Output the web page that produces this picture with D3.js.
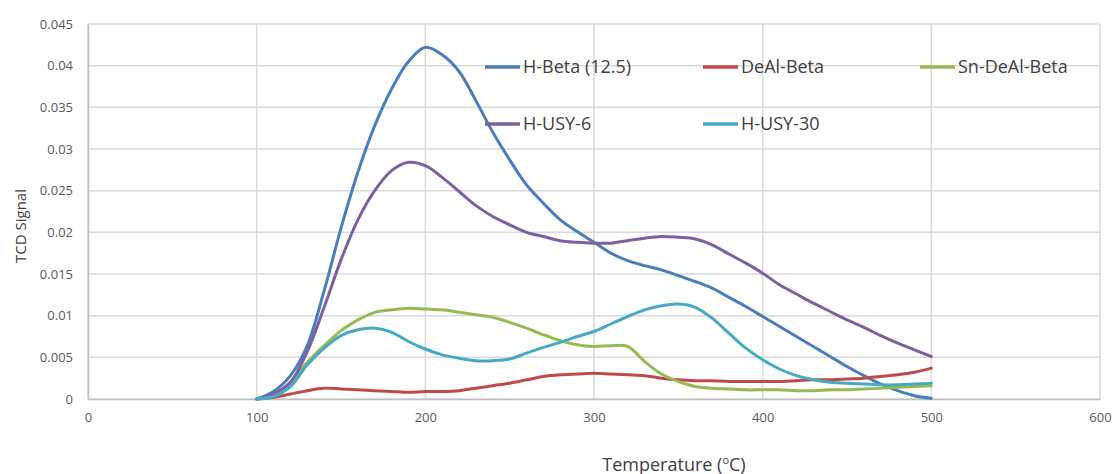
<!DOCTYPE html>
<html>
<head>
<meta charset="utf-8">
<script src="https://cdn.jsdelivr.net/npm/d3@7"></script>
<style>
  body { margin: 0; background: #fff; }
  text { font-family: "Open Sans", "Noto Sans", sans-serif; }
</style>
</head>
<body>
<div id="chart-container"></div>
<script>
var temperatures = [100, 110, 120, 130, 140, 150, 160, 170, 180, 190, 200,
  210, 220, 230, 240, 250, 260, 270, 280, 290, 300,
  310, 320, 330, 340, 350, 360, 370, 380, 390, 400,
  410, 420, 430, 440, 450, 460, 470, 480, 490, 500];

var hBeta = [0, 0.0009, 0.0028, 0.0064, 0.0130, 0.0205, 0.0272, 0.0328, 0.0372, 0.0405, 0.0422,
  0.0413, 0.0393, 0.0358, 0.0320, 0.0287, 0.0257, 0.0235, 0.0215, 0.0201, 0.0188,
  0.0175, 0.0166, 0.0160, 0.0155, 0.0148, 0.0141, 0.0133, 0.0122, 0.0111, 0.0099,
  0.0087, 0.0075, 0.0063, 0.0051, 0.0039, 0.0028, 0.0018, 0.0010, 0.0004, 0.0001];

var deAlBeta = [0, 0.0002, 0.0006, 0.0010, 0.0013, 0.0012, 0.0011, 0.0010, 0.0009, 0.0008, 0.0009,
  0.0009, 0.0010, 0.0013, 0.0016, 0.0019, 0.0023, 0.0027, 0.0029, 0.0030, 0.0031,
  0.0030, 0.0029, 0.0028, 0.0025, 0.0023, 0.0022, 0.0022, 0.0021, 0.0021, 0.0021,
  0.0021, 0.0022, 0.0023, 0.0023, 0.0024, 0.0025, 0.0027, 0.0029, 0.0032, 0.0037];

var snDeAlBeta = [0, 0.0005, 0.0020, 0.0044, 0.0064, 0.0082, 0.0095, 0.0104, 0.0107, 0.0109, 0.0108,
  0.0107, 0.0104, 0.0101, 0.0098, 0.0092, 0.0085, 0.0077, 0.0070, 0.0065, 0.0063,
  0.0064, 0.0063, 0.0045, 0.0030, 0.0021, 0.0015, 0.0013, 0.0012, 0.0011, 0.0011,
  0.0011, 0.0010, 0.0010, 0.0011, 0.0011, 0.0012, 0.0013, 0.0014, 0.0015, 0.0016];

var hUsy6 = [0, 0.0006, 0.0020, 0.0057, 0.0110, 0.0167, 0.0215, 0.0250, 0.0274, 0.0284, 0.0280,
  0.0266, 0.0249, 0.0232, 0.0219, 0.0209, 0.0200, 0.0195, 0.0190, 0.0188, 0.0187,
  0.0187, 0.0190, 0.0193, 0.0195, 0.0194, 0.0192, 0.0185, 0.0174, 0.0163, 0.0151,
  0.0137, 0.0126, 0.0115, 0.0105, 0.0095, 0.0086, 0.0076, 0.0067, 0.0059, 0.0051];

var hUsy30 = [0, 0.0003, 0.0015, 0.0041, 0.0061, 0.0076, 0.0083, 0.0085, 0.0080, 0.0069, 0.0060,
  0.0053, 0.0049, 0.0046, 0.0046, 0.0048, 0.0055, 0.0062, 0.0068, 0.0075, 0.0081,
  0.0090, 0.0099, 0.0107, 0.0112, 0.0114, 0.0110, 0.0097, 0.0079, 0.0061, 0.0047,
  0.0036, 0.0028, 0.0023, 0.0020, 0.0019, 0.0018, 0.0017, 0.0017, 0.0018, 0.0019];

var seriesNames = ["H-Beta (12.5)", "DeAl-Beta", "Sn-DeAl-Beta", "H-USY-6", "H-USY-30"];
var seriesValues = [hBeta, deAlBeta, snDeAlBeta, hUsy6, hUsy30];
var seriesColors = ["#4a7ebb", "#be4b48", "#98b954", "#7d60a0", "#46aac5"];

var xTicks = [0, 100, 200, 300, 400, 500, 600];
var yTicks = [0, 0.005, 0.01, 0.015, 0.02, 0.025, 0.03, 0.035, 0.04, 0.045];

// set the dimensions and margins of the graph
var width = 1119, height = 474;
var margin = { top: 24, right: 19, bottom: 75, left: 88 };
var innerWidth = width - margin.left - margin.right;
var innerHeight = height - margin.top - margin.bottom;

var svg = d3.select("#chart-container")
  .append("svg")
  .attr("width", width)
  .attr("height", height);

var g = svg.append("g")
  .attr("transform", "translate(" + margin.left + "," + margin.top + ")");

var xScale = d3.scaleLinear().domain([0, 600]).range([0, innerWidth]);
var yScale = d3.scaleLinear().domain([0, 0.045]).range([innerHeight, 0]);

// gridlines
g.append("g")
  .selectAll("line")
  .data(yTicks)
  .join("line")
  .attr("x1", 0)
  .attr("x2", innerWidth)
  .attr("y1", (d) => yScale(d))
  .attr("y2", (d) => yScale(d))
  .attr("stroke", "#d9d9d9")
  .attr("stroke-width", 1.5);

g.append("g")
  .selectAll("line")
  .data(xTicks)
  .join("line")
  .attr("x1", (d) => xScale(d))
  .attr("x2", (d) => xScale(d))
  .attr("y1", 0)
  .attr("y2", innerHeight)
  .attr("stroke", "#d9d9d9")
  .attr("stroke-width", 1.5);

// axes
var xAxis = g.append("g")
  .attr("transform", "translate(0," + innerHeight + ")")
  .call(d3.axisBottom(xScale).tickValues(xTicks).tickSize(0).tickPadding(14));

var yAxis = g.append("g")
  .call(d3.axisLeft(yScale).tickValues(yTicks).tickSize(0).tickPadding(15)
    .tickFormat((d) => d3.format("")(+d.toFixed(3))));

[xAxis, yAxis].forEach(function (a) {
  a.select(".domain").attr("stroke", "#bfbfbf").attr("stroke-width", 1.5);
  a.selectAll("text")
    .attr("fill", "#595959")
    .attr("font-size", 13)
    .attr("font-family", "'Open Sans', 'Noto Sans', sans-serif");
});

// lines
var line = d3.line()
  .x((d) => xScale(d[0]))
  .y((d) => yScale(d[1]))
  .curve(d3.curveCatmullRom.alpha(0.5));

g.append("g")
  .selectAll("path")
  .data(seriesValues)
  .join("path")
  .attr("d", (vals) => line(vals.map((v, i) => [temperatures[i], v])))
  .attr("fill", "none")
  .attr("stroke", (d, i) => seriesColors[i])
  .attr("stroke-width", 3)
  .attr("stroke-linejoin", "round")
  .attr("stroke-linecap", "round");

// legend, 3 columns x 2 rows inside the plot
var legendCols = [485, 703, 920];
var legendRows = [67, 124];

var legend = svg.append("g")
  .selectAll("g")
  .data(seriesNames)
  .join("g")
  .attr("transform", (d, i) =>
    "translate(" + legendCols[i % 3] + "," + legendRows[Math.floor(i / 3)] + ")");

legend.append("line")
  .attr("x1", 0)
  .attr("x2", 35)
  .attr("stroke", (d, i) => seriesColors[i])
  .attr("stroke-width", 3.5);

legend.append("text")
  .attr("x", 38)
  .attr("dy", "0.35em")
  .attr("font-size", 18)
  .attr("fill", "#404040")
  .text((d) => d);

// axis titles
svg.append("text")
  .attr("transform", "translate(26,226) rotate(-90)")
  .attr("text-anchor", "middle")
  .attr("font-size", 15)
  .attr("fill", "#404040")
  .text("TCD Signal");

var xTitle = svg.append("text")
  .attr("x", 674)
  .attr("y", 471)
  .attr("text-anchor", "middle")
  .attr("font-size", 18)
  .attr("fill", "#404040");
xTitle.append("tspan").text("Temperature (");
xTitle.append("tspan").attr("font-size", 11).attr("dy", -7).text("o");
xTitle.append("tspan").attr("dy", 7).text("C)");
</script>
</body>
</html>
